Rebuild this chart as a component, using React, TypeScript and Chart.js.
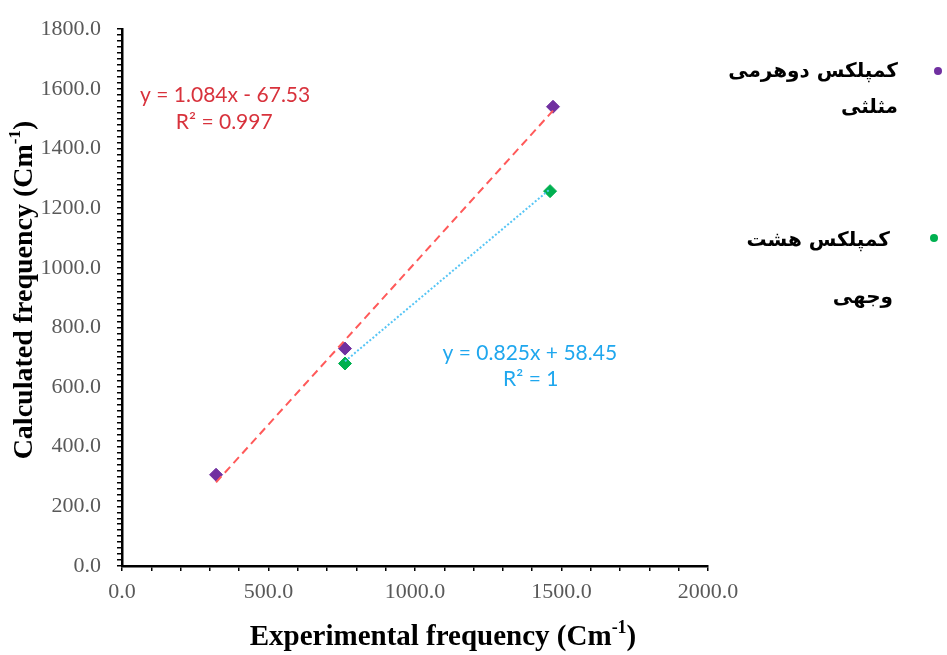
import React, { useEffect, useRef } from "react";
import { Chart, registerables } from "chart.js";

Chart.register(...registerables);

// ---- data ----
const seriesNames = ["کمپلکس دوهرمی مثلثی", "کمپلکس هشت وجهی"];
const trigonalX = [321, 761, 1471];
const trigonalY = [306, 729, 1540];
const octaX = [761, 1461];
const octaY = [679, 1257];
const trigonalFit = { slope: 1.084, intercept: -67.53 };
const octaFit = { slope: 0.825, intercept: 58.45 };
const eqTrigonal = ["y = 1.084x - 67.53", "R² = 0.997"];
const eqOcta = ["y = 0.825x + 58.45", "R² = 1"];
const xTickMajor = 500;
const yTickMajor = 200;
const xTitleParts = [{ t: "Experimental frequency (Cm" }, { t: "-1", sup: true }, { t: ")" }];
const yTitleParts = [{ t: "Calculated frequency (Cm" }, { t: "-1", sup: true }, { t: ")" }];

const PURPLE = "#7030A0";
const GREEN = "#00B050";

function fitLine(xs: number[], fit: { slope: number; intercept: number }) {
  const x0 = Math.min(...xs);
  const x1 = Math.max(...xs);
  return [
    { x: x0, y: fit.slope * x0 + fit.intercept },
    { x: x1, y: fit.slope * x1 + fit.intercept },
  ];
}

function drawRich(ctx: CanvasRenderingContext2D, parts: any[], cx: number, cy: number, size: number) {
  const base = `bold ${size}px "Liberation Serif", "Times New Roman", serif`;
  const sup = `bold ${Math.round(size * 0.62)}px "Liberation Serif", "Times New Roman", serif`;
  let total = 0;
  const widths = parts.map((p) => {
    ctx.font = p.sup ? sup : base;
    const w = ctx.measureText(p.t).width;
    total += w;
    return w;
  });
  let x = cx - total / 2;
  ctx.textBaseline = "middle";
  ctx.textAlign = "left";
  parts.forEach((p, i) => {
    ctx.font = p.sup ? sup : base;
    ctx.fillText(p.t, x, p.sup ? cy - size * 0.33 : cy);
    x += widths[i];
  });
}

const overlayPlugin = {
  id: "overlay",
  afterDraw(chart: any) {
    const ctx = chart.ctx as CanvasRenderingContext2D;
    const xs = chart.scales.x;
    const ys = chart.scales.y;
    ctx.save();
    // equations
    ctx.font = '21px Lato, "Open Sans", sans-serif';
    ctx.textAlign = "center";
    ctx.textBaseline = "middle";
    ctx.fillStyle = "#D8323C";
    ctx.fillText(eqTrigonal[0], xs.getPixelForValue(352), ys.getPixelForValue(1580));
    ctx.fillText(eqTrigonal[1], xs.getPixelForValue(349), ys.getPixelForValue(1487));
    ctx.fillStyle = "#1FA7EE";
    ctx.fillText(eqOcta[0], xs.getPixelForValue(1392), ys.getPixelForValue(712));
    ctx.fillText(eqOcta[1], xs.getPixelForValue(1395), ys.getPixelForValue(625));
    // axis titles
    ctx.fillStyle = "#000";
    drawRich(ctx, xTitleParts, 443, 638, 29);
    ctx.save();
    ctx.translate(25, 290);
    ctx.rotate(-Math.PI / 2);
    drawRich(ctx, yTitleParts, 0, 0, 28);
    ctx.restore();
    ctx.restore();
  },
};

export default function App() {
  const ref = useRef<HTMLCanvasElement>(null);
  useEffect(() => {
    document.body.style.margin = "0";
    const chart = new Chart(ref.current!, {
      type: "scatter",
      data: {
        datasets: [
          {
            label: seriesNames[0],
            data: trigonalX.map((x, i) => ({ x, y: trigonalY[i] })),
            backgroundColor: PURPLE,
            borderColor: PURPLE,
            pointStyle: "rectRot",
            pointRadius: 6.5,
            order: 1,
          },
          {
            label: seriesNames[1],
            data: octaX.map((x, i) => ({ x, y: octaY[i] })),
            backgroundColor: GREEN,
            borderColor: GREEN,
            pointStyle: "rectRot",
            pointRadius: 6.5,
            order: 1,
          },
          {
            type: "line",
            label: "trend1",
            data: fitLine(trigonalX, trigonalFit),
            borderColor: "#FF5A5A",
            borderWidth: 2,
            borderDash: [8, 5],
            pointRadius: 0,
            order: 0,
          } as any,
          {
            type: "line",
            label: "trend2",
            data: fitLine(octaX, octaFit),
            borderColor: "#56C5F5",
            borderWidth: 2,
            borderDash: [2, 2],
            pointRadius: 0,
            order: 0,
          } as any,
        ],
      },
      options: {
        responsive: false,
        animation: false,
        layout: { padding: { top: 25, right: 239, left: 0, bottom: 0 } },
        plugins: { legend: { display: false }, tooltip: { enabled: false } },
        scales: {
          x: {
            type: "linear",
            min: 0,
            max: 2000,
            afterFit: (s: any) => {
              s.height = 89;
            },
            border: { display: true, color: "#000", width: 2.5 },
            grid: { display: true, drawOnChartArea: false, drawTicks: true, tickLength: 5, color: "#000", lineWidth: 1.5 },
            ticks: {
              stepSize: 100,
              autoSkip: false,
              maxRotation: 0,
              padding: 8,
              color: "#595959",
              font: { family: '"Liberation Serif", "Times New Roman", serif', size: 22 },
              callback: (v: any) => (Math.round(v) % xTickMajor === 0 ? Number(v).toFixed(1) : ""),
            },
          },
          y: {
            type: "linear",
            min: 0,
            max: 1800,
            afterFit: (s: any) => {
              s.width = 122;
            },
            border: { display: true, color: "#000", width: 2.5 },
            grid: { display: true, drawOnChartArea: false, drawTicks: true, tickLength: 5, color: "#000", lineWidth: 1.5 },
            ticks: {
              stepSize: 20,
              autoSkip: false,
              padding: 16,
              color: "#595959",
              font: { family: '"Liberation Serif", "Times New Roman", serif', size: 22 },
              callback: (v: any) => (Math.round(v) % yTickMajor === 0 ? Number(v).toFixed(1) : ""),
            },
          },
        },
      },
      plugins: [overlayPlugin],
    });
    return () => chart.destroy();
  }, []);

  const legendText: React.CSSProperties = {
    position: "absolute",
    direction: "rtl",
    textAlign: "right",
    whiteSpace: "nowrap",
    fontFamily: '"DejaVu Sans", sans-serif',
    fontWeight: "bold",
    fontSize: 20,
    color: "#000",
    lineHeight: "28px",
  };
  const dot = (color: string, left: number, top: number): React.CSSProperties => ({
    position: "absolute",
    left: left - 4,
    top: top - 4,
    width: 8,
    height: 8,
    borderRadius: "50%",
    background: color,
  });
  const words1 = seriesNames[0].split(" ");
  const words2 = seriesNames[1].split(" ");

  return (
    <div style={{ position: "relative", width: 947, height: 655, background: "#fff" }}>
      <canvas ref={ref} width={947} height={655} style={{ position: "absolute", left: 0, top: 0 }} />
      <div style={dot(PURPLE, 938, 71)} />
      <div style={{ ...legendText, right: 947 - 898, top: 56 }}>{words1.slice(0, 2).join(" ")}</div>
      <div style={{ ...legendText, right: 947 - 898, top: 92 }}>{words1.slice(2).join(" ")}</div>
      <div style={dot(GREEN, 934, 238)} />
      <div style={{ ...legendText, right: 947 - 890, top: 225 }}>{words2.slice(0, 2).join(" ")}</div>
      <div style={{ ...legendText, right: 947 - 893, top: 282 }}>{words2.slice(2).join(" ")}</div>
    </div>
  );
}
